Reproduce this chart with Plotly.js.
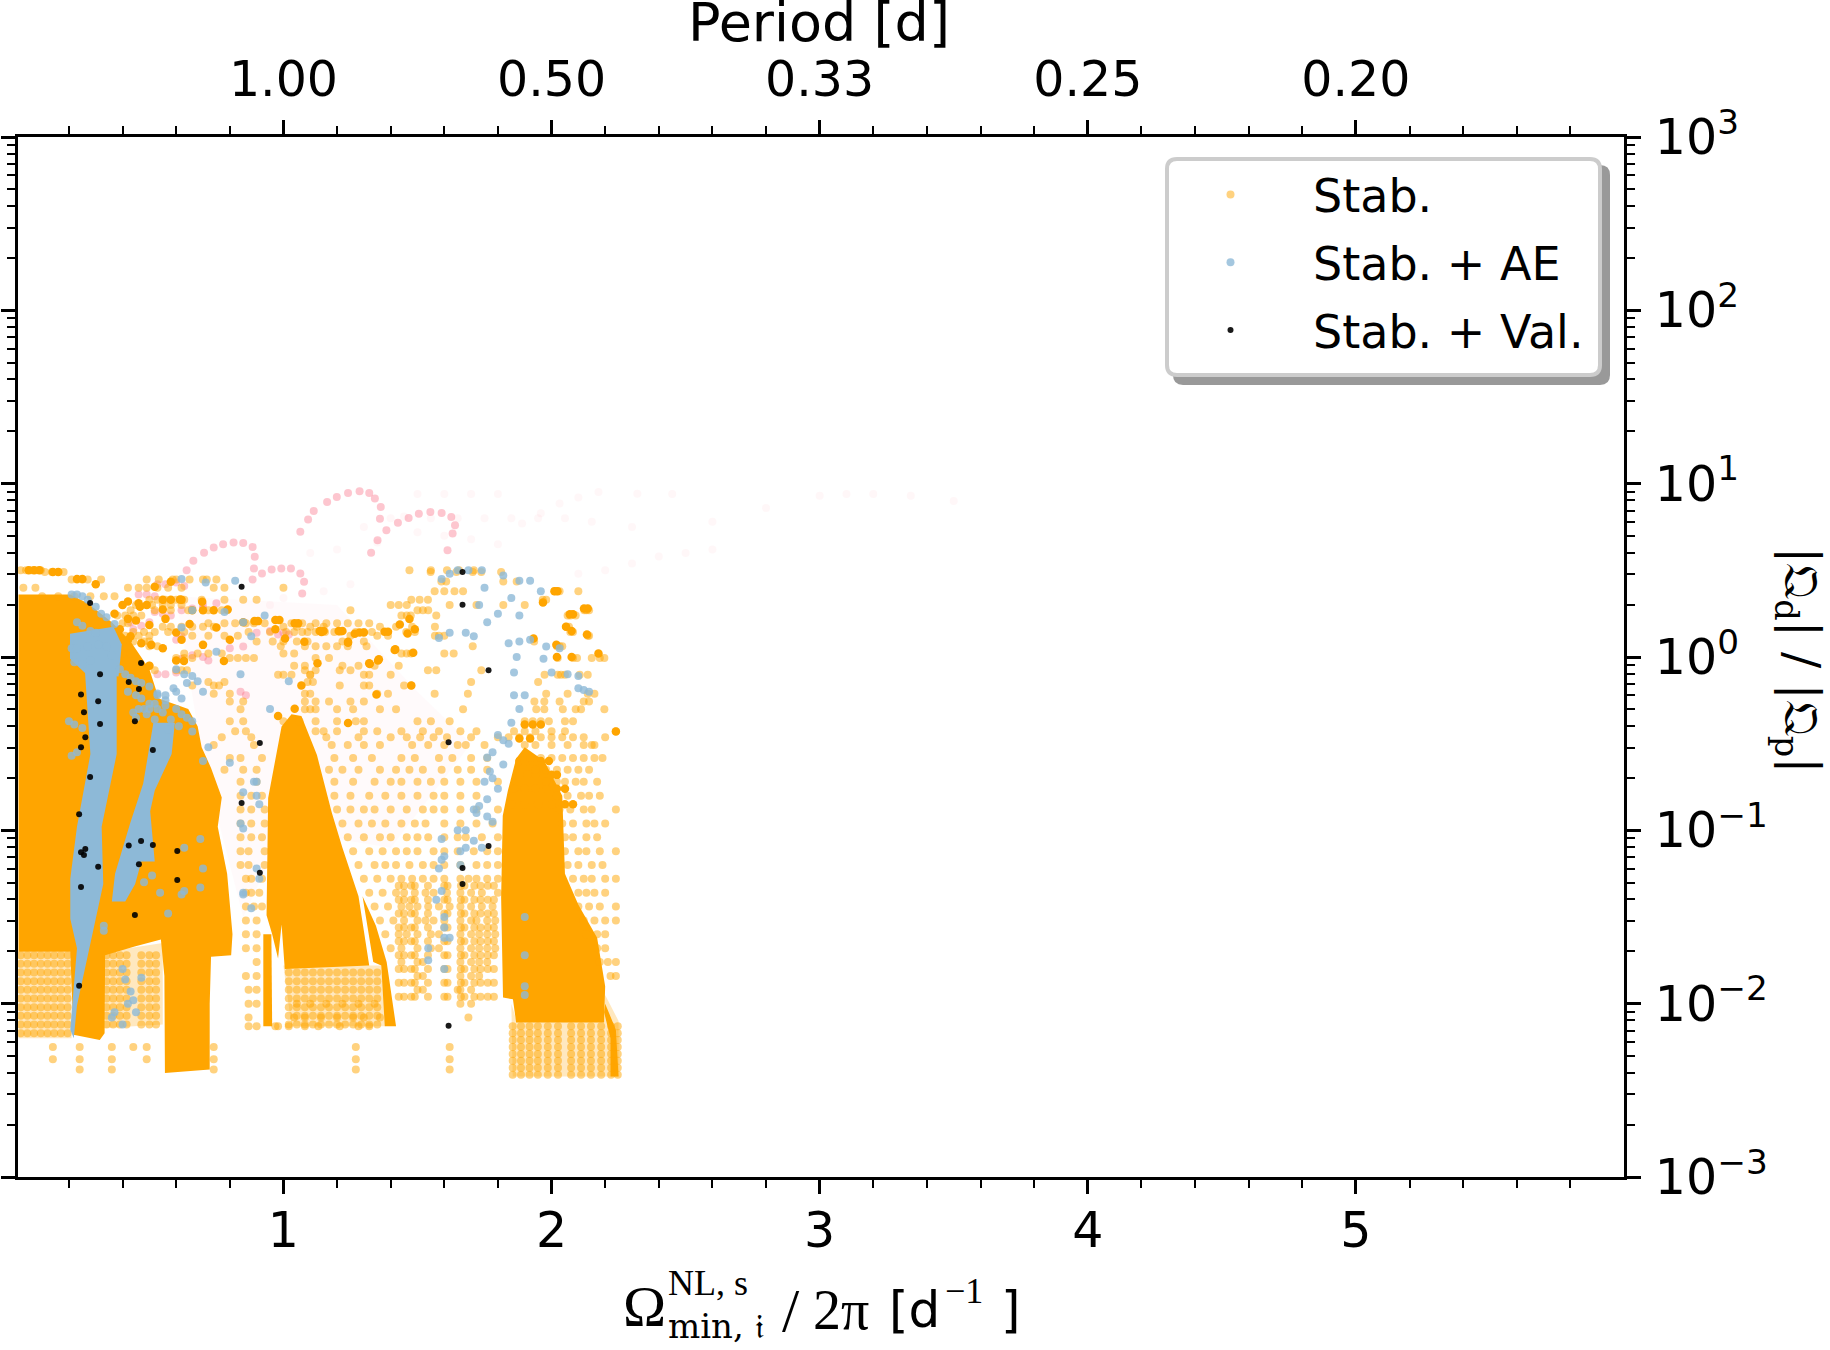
<!DOCTYPE html>
<html>
<head>
<meta charset="utf-8">
<script src="https://cdn.plot.ly/plotly-3.0.1.min.js"></script>
<style>html,body{margin:0;padding:0;background:#fff}</style>
</head>
<body>
<div id="chart" style="width:1830px;height:1350px"></div>
<script>
// tick labels
const freqTicks = [1, 2, 3, 4, 5];
const periodLabels = ['1.00', '0.50', '0.33', '0.25', '0.20'];
const decadeExp = [-3, -2, -1, 0, 1, 2, 3];
const decadeLabels = ['10<sup>\u22123</sup>', '10<sup>\u22122</sup>', '10<sup>\u22121</sup>', '10<sup>0</sup>', '10<sup>1</sup>', '10<sup>2</sup>', '10<sup>3</sup>'];
const freqMinor = [0.2, 0.4, 0.6, 0.8, 1.2, 1.4, 1.6, 1.8, 2.2, 2.4, 2.6, 2.8, 3.2, 3.4, 3.6, 3.8, 4.2, 4.4, 4.6, 4.8, 5.2, 5.4, 5.6, 5.8];

// all values below: x = frequency, y = log10 of the ratio

// Stab. + Val.
const valX = [.844, .279, .469, .316, .423, .461, .245, .309, .256, .446, .316, .261, .912, .245, .513, .279, .844, .238, .423, .469, .513, .261, .245, .256, .604, .461, .309, .912, .604, .245, .446, .238, 1.668, 1.668, 1.765, 1.616, 1.765, 1.668, 1.668, 1.616];
const valLog = [.405, .311, -.035, -.099, -.144, -.185, -.216, -.255, -.319, -.37, -.387, -.463, -.496, -.521, -.537, -.693, -.842, -.907, -1.088, -1.062, -1.084, -1.107, -1.126, -1.142, -1.119, -1.195, -1.21, -1.245, -1.286, -1.327, -1.488, -1.897, .49, .302, -.076, -.492, -1.091, -1.218, -1.309, -2.128];

// dense parts of Stab., as outlines [x, log10]
const stabBlock = [[.012, .36], [.205, .36], [.27, .31], [.36, .2], [.43, .09], [.5, -.07], [.535, -.24], [.645, -.3], [.68, -.4], [.695, -.52], [.73, -.64], [.77, -.81], [.755, -.98], [.79, -1.25], [.81, -1.6], [.805, -1.72], [.73, -1.73], [.725, -2.0], [.725, -2.38], [.558, -2.4], [.556, -1.84], [.543, -1.63], [.445, -1.67], [.335, -1.72], [.333, -2.17], [.315, -2.21], [.217, -2.18], [.205, -1.7], [.012, -1.7]];
const stabBlockFoot = [[.012, -1.7], [.21, -1.7], [.21, -2.2], [.012, -2.2]];
const stabMidFoot = [[.335, -1.7], [.55, -1.65], [.55, -2.12], [.335, -2.14]];
const stabPeakOne = [[.937, -1.49], [.943, -.813], [.993, -.401], [1.03, -.33], [1.067, -.34], [1.125, -.566], [1.18, -.895], [1.22, -1.1], [1.28, -1.38], [1.32, -1.78], [1.005, -1.8], [.993, -1.543], [.98, -1.739], [.958, -1.6]];
const stabPeakStrandB = [[1.295, -1.38], [1.345, -1.55], [1.385, -1.76], [1.42, -2.13], [1.378, -2.13], [1.365, -1.78], [1.335, -1.76]];
const stabPeakStrip = [[.925, -1.6], [.955, -1.6], [.958, -2.13], [.925, -2.13]];
const stabPeakFoot = [[1.0, -1.78], [1.37, -1.78], [1.38, -2.13], [1.03, -2.13]];
const stabPeakTwo = [[1.868, -.586], [1.9, -.52], [1.973, -.6], [2.04, -.8], [2.05, -1.25], [2.1, -1.43], [2.17, -1.62], [2.2, -1.9], [2.196, -2.109], [1.868, -2.109], [1.856, -1.975], [1.819, -1.965], [1.812, -1.389], [1.818, -.916], [1.837, -.772]];
const stabPeakTwoFoot = [[1.855, -2.42], [2.25, -2.42], [2.25, -2.1], [2.2, -1.95], [2.196, -2.1], [1.87, -2.1], [1.85, -2.0]];
const stabPeakTwoEdge = [[2.2, -2.0], [2.24, -2.15], [2.25, -2.42], [2.22, -2.42], [2.22, -2.2], [2.196, -2.05]];

// dense parts of Stab. + AE
const aeStrandTop = [[.204, .134], [.366, .175], [.397, .072], [.385, -.113], [.26, -.093], [.204, -.01]];
const aeStrandOne = [[.26, -.09], [.378, -.09], [.378, -.56], [.322, -.98], [.328, -1.31], [.285, -1.62], [.23, -2.01], [.218, -2.2], [.205, -2.15], [.23, -1.68], [.205, -1.51], [.205, -1.28], [.23, -.98], [.28, -.56]];
const aeStrandTwo = [[.515, -.38], [.595, -.38], [.583, -.56], [.52, -.77], [.503, -.89], [.52, -1.18], [.47, -1.18], [.447, -1.31], [.41, -1.41], [.36, -1.41], [.372, -1.25], [.428, -.96], [.477, -.73]];

// streaks of Stab. that are saturated, many dots on one spot
const streakX = [.52, .58, .614, .697, .792, .55, .465, .5, .6, .507, .42, .892, .905, .97, .985, 1.042, 1.055, 1.135, 1.15, 1.206, 1.22, 1.284, 1.3, 1.377, 1.39, 1.463, 1.49, 1.434, 1.47, 1.078, 1.006, 1.241, 1.417, 1.484, 1.356, 1.32, 1.127, .778, .629, 2.011, 2.022, 1.968, 2.121, 2.135, 2.068, 2.08, 2.054, 2.075, 2.132, 1.933, 2.018, 2.175, 2.02, 2.075, 1.266, 1.142, 1.241, 1.353, 1.322, 1.415, 1.477, 1.347, .98, 1.067, 1.042, 1.241, .05, .07, .09, .14, .16, .23, .25, .55, .58, .62, .66, .7, .74, 1.9, 1.93, 1.96, 1.88, 1.92, 2.24, .3, .42, .46, .49, .37, .42, .45, .39, .43, .47, .55, .6, .5, .4, .56, .65, .75, .85, .97, .62, .7, .8, 1.88, 1.9, 1.93, 1.96, 1.99, 1.88, 1.91, 1.94, 1.97, 2.0, 2.02, 1.86, 1.9, 1.94, 1.98, 2.02, 2.05, 1.85, 1.9, 1.95, 2.0, 2.05, 2.08];
const streakLog = [.405, .434, .332, .319, .274, .274, .29, .184, .142, .07, .098, .207, .207, .213, .213, .194, .194, .15, .15, .15, .15, .142, .142, .146, .146, .136, .16, .188, .219, .088, .107, .088, .044, .025, -.013, -.036, -.036, -.023, -.023, .38, .38, .315, .28, .28, .246, .246, .175, .15, .13, .107, .07, .02, 0, 0, .134, .144, .082, -.02, -.041, .041, -.165, -.216, -.34, -.165, -.298, -.381, .5, .5, .5, .49, .49, .45, .45, .33, .33, .33, .27, .27, .27, -.39, -.39, -.39, -.47, -.47, -.43, .42, .32, .31, .3, .25, .22, .21, .16, .12, .08, .05, -.02, -.05, .3, .22, .19, .17, .2, .16, .1, .07, .1, -.6, -.6, -.6, -.6, -.6, -.68, -.68, -.68, -.68, -.68, -.68, -.76, -.76, -.76, -.76, -.76, -.76, -.85, -.85, -.85, -.85, -.85, -.85];

// scattered Stab. dots, row by row: [log10, [x...]]
const stabRows = [
  [.50, [.02, .04, .06, .08, .095, 1.47, 1.55, 1.61, 1.655, 1.71]],
  [.49, [.11, .136, .16, .18, 1.549, 1.645, 1.706, 1.738, 1.812]],
  [.447, [.21, .23, .25, .27, .32, .6, .65, .7, .49, .535, .587, .714, .75]],
  [.436, [1.589, 1.607, 1.82, 1.87]],
  [.40, [.03, .075, .42, .46, .49, .53, .57, .62, .74, .78, 1.0]],
  [.38, [1.564, 1.6, 1.638, 1.67, 2.011, 2.02, 2.03, 2.1]],
  [.35, [.1, .16, .22, .28, .33, .37]],
  [.33, [.5, .53, .56, .6, .63, .695, .78, .85, .9, 1.477, 1.508, 1.539, 1.967, 1.98]],
  [.30, [.4, .45, .49, .51, .55, .58, .62, 1.4, 1.43, 1.46, 1.62, 1.72, 1.82, 1.9]],
  [.27, [.645, .72, .77, .79, .43, .52, .58, 1.5, 1.52, 1.54, 2.122, 2.13, 2.14, 1.25]],
  [.24, [.38, .41, .44, .47, 2.06, 2.07, 2.09, 1.44, 1.46, 1.475, 1.57]],
  [.195, [.4, .42, .72, .78, .82, .86, .89, .93, 1.03, 1.07, 1.12, 1.16, 1.2, 1.24, 1.28, 1.32]],
  [.175, [.55, .58, .62, .66, .7, .74, 1.0, 1.05, 1.1, 1.15, 1.36, 1.42, 1.48, 1.565, 2.055, 2.065]],
  [.144, [.36, .38, .44, .48, .52, .57, .63, .87, .95, 1.01, 1.04, 1.07, 1.09, 1.12, 1.155, 1.19, 1.21, 1.27, 1.3, 1.33, 1.458, 1.49, 2.07, 2.08]],
  [.123, [.41, .46, .5, .66, .72, .78, .83, 1.565, 1.58, 1.6, 2.135, 2.14, 1.25, 1.35, 1.39]],
  [.09, [.36, .4, .44, .48, .5, .9, .96, 1.0, 1.05, 1.09, 1.935, 1.22, 1.3]],
  [.062, [.5, .53, 1.08, 1.12, 1.16, 1.2, 1.24, 1.31, 1.706, 2.02, 2.03, 2.04, .99]],
  [.02, [.4, .43, .63, .68, .72, .77, 1.0, 1.04, 1.44, 1.46, 1.476, 1.6, 1.635]],
  [-.006, [.6, .63, .66, .8, .83, .86, .89, 1.12, 1.17, 2.023, 2.08, 2.095, 2.15, 2.18, 2.197]],
  [-.05, [.4, .44, .5, 1.04, 1.08, 1.22, 1.28, 1.34, 1.43]],
  [-.076, [.52, .6, .62, .64, 1.08, 1.12, 1.21, 1.25, 1.539, 1.57, 1.738]],
  [-.103, [.98, 1.0, 1.03, 1.1, 1.1, 1.3, 1.32, 1.4, 1.974, 2.023, 2.035, 2.05, 2.105, 2.135]],
  [-.144, [.72, .78, 1.09, 1.11, 1.7, 1.95]],
  [-.165, [.74, .66, .76, 1.21, 1.3, 1.32, 1.45, 1.476]],
  [-.212, [.74, .8, 1.08, 1.1, 1.35, 1.39, 1.564, 1.688, 1.98, 2.06, 2.135, 2.16]],
  [-.257, [.8, .85, 1.12, 1.08, 1.17, 1.25, 1.3, 1.936, 1.973, 2.03, 2.12, 2.14]],
  [-.302, [.84, 1.08, 1.1, 1.12, 1.2, 1.26, 1.36, 1.42, 1.67, 1.943, 1.973, 2.042, 2.09, 2.11, 2.197]],
  [-.37, [.8, .85, 1.0, 1.06, 1.12, 1.2, 1.27, 1.3, 1.5, 1.55, 1.62, 1.9, 1.93, 1.96, 1.99, 2.05, 2.08]],
  [-.428, [.82, .86, 1.12, 1.15, 1.2, 1.3, 1.35, 1.44, 1.52, 1.58, 1.66, 1.72, 1.86, 1.9, 1.94, 2.0, 2.05, 2.24]],
  [-.463, [.77, .88, 1.16, 1.28, 1.4, 1.46, 1.51, 1.56, 1.61, 1.7, 1.8, 1.84, 1.88, 1.92, 1.96, 2.0, 2.04, 2.08, 2.12, 2.2]],
  [-.508, [.74, .89, 1.18, 1.24, 1.3, 1.36, 1.48, 1.54, 1.6, 1.65, 1.68, 1.75, 1.9, 1.94, 2.0, 2.06, 2.12, 2.15, 2.16]],
  [-.582, [.8, .84, .92, 1.19, 1.26, 1.33, 1.44, 1.49, 1.58, 1.63, 1.7, 1.76, 1.92, 1.96, 2.0, 2.04, 2.08, 2.12, 2.16, 2.19]],
  [-.65, [.78, .85, .9, 1.17, 1.22, 1.28, 1.36, 1.42, 1.47, 1.52, 1.59, 1.65, 1.7, 1.76, 1.94, 1.98, 2.02, 2.06, 2.1, 2.14]],
  [-.72, [.84, .9, 1.19, 1.26, 1.34, 1.4, 1.44, 1.5, 1.55, 1.6, 1.66, 1.72, 1.8, 1.98, 2.02, 2.05, 2.09, 2.12, 2.17]],
  [-.8, [.84, .88, .92, 1.19, 1.25, 1.32, 1.38, 1.44, 1.5, 1.56, 1.6, 1.66, 1.72, 2.02, 2.06, 2.11, 2.14, 2.18]],
  [-.88, [.84, .88, .93, 1.2, 1.25, 1.3, 1.34, 1.4, 1.46, 1.52, 1.56, 1.6, 1.66, 1.72, 1.8, 2.03, 2.07, 2.12, 2.15, 2.24]],
  [-.96, [.84, .88, .93, 1.22, 1.28, 1.33, 1.38, 1.44, 1.49, 1.53, 1.6, 1.66, 1.72, 1.78, 2.04, 2.08, 2.13, 2.16, 2.2]],
  [-1.04, [.84, .88, .92, 1.24, 1.3, 1.36, 1.4, 1.46, 1.5, 1.54, 1.6, 1.65, 1.68, 1.74, 1.8, 2.05, 2.08, 2.13, 2.17]],
  [-1.12, [.84, .87, .93, 1.26, 1.32, 1.37, 1.42, 1.46, 1.5, 1.56, 1.6, 1.65, 1.71, 1.76, 1.8, 2.05, 2.1, 2.13, 2.18, 2.24]],
  [-1.2, [.84, .87, .93, 1.28, 1.34, 1.38, 1.42, 1.47, 1.52, 1.56, 1.6, 1.66, 1.72, 1.76, 1.8, 2.06, 2.1, 2.15, 2.19]],
  [-1.28, [.86, .88, .92, 1.3, 1.35, 1.4, 1.44, 1.48, 1.52, 1.56, 1.6, 1.66, 1.69, 1.72, 1.76, 1.8, 2.08, 2.12, 2.15, 2.2, 2.24]],
  [-1.36, [.86, .88, .91, 1.32, 1.37, 1.42, 1.45, 1.49, 1.53, 1.56, 1.61, 1.66, 1.7, 1.74, 1.8, 2.1, 2.13, 2.16, 2.2]],
  [-1.44, [.86, .89, .92, 1.34, 1.39, 1.44, 1.47, 1.5, 1.54, 1.58, 1.62, 1.66, 1.7, 1.74, 1.78, 2.1, 2.14, 2.18, 2.24]],
  [-1.52, [.86, .9, 1.36, 1.41, 1.45, 1.5, 1.53, 1.56, 1.6, 1.66, 1.7, 1.72, 1.76, 1.79, 2.12, 2.16, 2.2, 2.24]],
  [-1.6, [.86, .9, 1.38, 1.43, 1.46, 1.5, 1.55, 1.58, 1.66, 1.7, 1.73, 1.76, 1.79, 2.13, 2.17, 2.2]],
  [-1.68, [.86, .9, 1.4, 1.44, 1.5, 1.55, 1.58, 1.66, 1.7, 1.73, 1.76, 1.79, 2.17, 2.2]],
  [-1.76, [.9, 1.44, 1.5, 1.52, 1.66, 1.7, 1.73, 1.76, 2.18, 2.21, 2.24]],
  [-1.84, [.86, .9, 1.5, 1.52, 1.66, 1.7, 1.73, 2.22, 2.24]],
  [-1.92, [.87, .9, 1.5, 1.52, 1.66, 1.7, 1.65]],
  [-2.0, [.87, .9, 1.05, 1.1, 1.16, 1.22, 1.28, 1.34, 1.66, 1.7]],
  [-2.08, [.87, 1.04, 1.08, 1.14, 1.2, 1.26, 1.3, 1.36, 1.69]],
  [-2.13, [.87, .9, .98, 1.02, 1.08, 1.13, 1.21, 1.28, 1.32, .97]],
  [-2.25, [.14, .24, .36, .44, .49, .74, 1.27, 1.62]],
  [-2.32, [.14, .24, .36, .49, .74, 1.27, 1.62]],
  [-2.38, [.24, .36, .74, 1.27, 1.62]]
];

// the quantised feet under the dense parts: columns and rows seen there
const footLeftCols = [.02, .045, .07, .095, .12, .145, .17, .195];
const footLeftRows = [-1.72, -1.77, -1.82, -1.87, -1.92, -1.97, -2.02, -2.07, -2.12, -2.17];
const footMidCols = [.34, .365, .39, .415, .47, .5, .525];
const footMidRows = [-1.72, -1.77, -1.82, -1.87, -1.92, -1.97, -2.02, -2.07, -2.12];
const footOneCols = [1.02, 1.05, 1.08, 1.11, 1.14, 1.17, 1.2, 1.23, 1.26, 1.29, 1.32, 1.35];
const footOneRows = [-1.82, -1.87, -1.92, -1.97, -2.02, -2.07, -2.12];
const footTwoCols = [1.855, 1.886, 1.918, 1.949, 1.986, 2.024, 2.073, 2.11, 2.147, 2.185, 2.222, 2.247];
const footTwoRows = [-2.13, -2.17, -2.21, -2.25, -2.29, -2.33, -2.37, -2.41];
const fringeCols = [1.43, 1.45, 1.477, 1.49, 1.539, 1.6, 1.612, 1.662, 1.675, 1.712, 1.735, 1.762, 1.785];
const fringeRows = [-1.32, -1.4, -1.48, -1.56, -1.64, -1.72, -1.8, -1.88, -1.96];

// Stab. + AE dots
const aeX = [.21, .23, .25, .27, .3, .32, .34, .37, .23, .25, .28, .3, .21, .23, .27, .31, .34, .22, .25, .28, .36, .39, .41, .43, .45, .47, .5, .53, .56, .6, .62, .64, .66, .42, .45, .47, .5, .53, .55, .58, .61, .46, .49, .52, .57, .2, .22, .25, .21, .23, .66, .72, .7, .8, .95, .84, .75, .62, .85, .82, .93, .88, .62, .71, .78, .66, .7, 1.02, .85, .89, .9, .9, .84, .85, .91, .85, .9, .91, .85, .88, .4, .41, .43, .47, .44, .37, .36, .4, .33, .33, .69, .63, .7, .63, .69, .62, 1.59, 1.62, 1.65, 1.69, 1.74, 1.82, 1.88, 1.92, 1.96, 1.75, 1.85, 1.73, 1.88, 1.76, 1.8, 1.58, 1.62, 1.68, 1.71, 1.88, 1.92, 1.84, 1.98, 2.03, 1.87, 1.97, 2.0, 1.86, 2.06, 2.1, 2.1, 2.14, 2.12, 1.9, 1.86, 1.88, 1.85, 1.8, 1.84, 1.82, 1.78, 1.76, 1.82, 1.77, 1.78, 1.75, 1.8, 1.76, 1.73, 1.71, 1.72, 1.76, 1.78, 1.68, 1.65, 1.71, 1.74, 1.66, 1.66, 1.68, 1.59, 1.59, 1.6, 1.59, 1.57, 1.58, 1.6, 1.6, 1.62, 1.54, 1.54, 1.6, 1.6, 1.9, 1.9, 1.9, 1.9, .42, .45, .48, .51, .54, .57, .6, .63, .66, .68, .64, .6, .56, .52, .48, .45, .44, .5, .56, .62, .53, .59];
const aeLog = [.36, .36, .35, .33, .29, .25, .23, .19, .2, .18, .15, .14, .05, .05, .06, .07, .06, -.03, -.04, -.02, .01, -.07, -.1, -.12, -.14, -.15, -.17, -.21, -.25, -.3, -.33, -.35, -.37, -.2, -.22, -.24, -.27, -.3, -.32, -.36, -.4, -.3, -.33, -.36, -.42, -.37, -.39, -.41, -.57, -.55, -.43, -.52, -.6, -.61, -.3, -.1, .03, .17, .2, .44, .24, .12, .45, .43, .26, .27, -.2, -.14, -.78, -.72, -.72, -.8, -.96, -.99, -.85, -1.36, -1.22, -1.28, -1.37, -1.45, -1.8, -1.86, -1.93, -1.85, -1.98, -2.05, -2.08, -2.12, -1.55, -1.58, -1.05, -1.1, -1.22, -1.35, -1.33, -1.37, .45, .48, .5, .5, .5, .47, .44, .44, .38, .4, .34, .3, .24, .2, .25, .11, .14, .14, .12, .09, .1, .08, .06, .05, .0, -.01, -.09, -.09, -.1, -.11, -.18, -.2, -.19, -.22, -.22, -.3, -.38, -.45, -.5, -.48, -.55, -.58, -.62, -.66, -.7, -.72, -.76, -.82, -.86, -.88, -.9, -.92, -.95, -1.0, -1.0, -1.06, -1.1, -1.12, -1.2, -1.1, -1.05, -1.17, -1.15, -1.35, -1.4, -1.22, -1.5, -1.56, -1.62, -1.68, -1.75, -1.8, -1.62, -1.72, -1.5, -1.9, -1.95, -2.0, -2.05, -1.3, -1.26, -1.36, -1.48, -.07, -.1, -.11, -.14, -.15, -.2, -.22, -.27, -.3, -.35, -.32, -.3, -.28, -.24, -.22, -.18, -.28, -.33, -.36, -.38, -.4, -.45];

// pink traces behind everything: arcs, then the faint far part
const pinkX = [1.063, 1.092, 1.113, 1.163, 1.199, 1.241, 1.284, 1.32, 1.341, 1.363, 1.36, 1.327, 1.351, 1.384, 1.427, 1.467, 1.505, 1.548, 1.59, 1.626, 1.64, 1.631, 1.612, .639, .664, .704, .74, .775, .814, .85, .885, .893, .89, .885, .92, .956, .992, 1.028, 1.063, 1.077, 1.07, .53, .56, .6, .63, .46, .49, .52, .62, .66, .7, .9, .95, 1.0, .62, .66, .7, .72, .53, .56, .6, .84, .86, .7, .75, .6, .62, .98, 1.02, .52, .55, .58, .8, .85, .43, .44, .47, .5];
const pinkLog = [.722, .793, .843, .894, .923, .946, .956, .946, .914, .866, .798, .601, .674, .731, .774, .802, .827, .837, .831, .808, .76, .712, .616, .501, .555, .601, .632, .651, .66, .658, .635, .578, .511, .447, .482, .505, .511, .511, .482, .434, .367, .42, .42, .43, .41, .36, .36, .35, .27, .28, .28, .14, .15, .14, -.01, .01, .0, -.02, -.1, -.1, -.09, -.2, -.22, .3, .31, .1, .12, .13, .13, .26, .25, .24, .05, .06, .2, .16, .18, .2];
const pinkFarX = [1.5, 1.6, 1.7, 1.8, 1.89, 1.96, 2.03, 2.1, 2.175, 2.32, 2.45, 2.6, 2.8, 3.0, 3.1, 3.2, 3.34, 3.5, 1.45, 1.55, 1.65, 1.75, 1.85, 1.95, 2.05, 2.15, 2.3, 2.5, 2.6, 2.4, 2.3, 2.2, 2.1, 1.3, 1.4, 1.5, 1.6, 1.7, 1.8, 1.1, 1.2, 1.35, .95, 1.0, 1.15, 1.25];
const pinkFarLog = [.94, .94, .94, .94, .77, .83, .885, .92, .952, .942, .94, .78, .86, .93, .94, .94, .93, .9, .81, .8, .8, .8, .8, .8, .8, .78, .75, .6, .62, .58, .54, .5, .48, .75, .8, .72, .7, .68, .65, .6, .62, .66, .3, .34, .38, .42];
const hazeOutline = [[.6, .35], [1.2, .3], [1.5, -.2], [1.7, -.5], [1.4, -1.1], [1.0, -1.0], [.85, -1.5], [.7, -.6]];

// one flat [x, y] list from the rows and the feet above
const stabX = [];
const stabLog = [];
for (const [level, xs] of stabRows) {
  for (const v of xs) {
    stabX.push(v);
    stabLog.push(level);
  }
}
for (const [cols, rows] of [[footLeftCols, footLeftRows], [footMidCols, footMidRows], [footOneCols, footOneRows], [footTwoCols, footTwoRows], [fringeCols, fringeRows]]) {
  for (const c of cols) {
    for (const r of rows) {
      stabX.push(c);
      stabLog.push(r);
    }
  }
}

const tenTo = a => a.map(v => Math.pow(10, v));

function outline(points, color, opacity) {
  return {
    x: points.map(p => p[0]),
    y: tenTo(points.map(p => p[1])),
    mode: 'lines',
    fill: 'toself',
    fillcolor: color,
    line: {width: 0, color: color},
    opacity: opacity,
    showlegend: false,
    hoverinfo: 'skip',
    type: 'scatter'
  };
}

const orange = '#ffa500';
const aeBlue = '#8db9d7';

const traces = [
  outline(hazeOutline, 'rgb(255,205,215)', 0.1),
  {x: pinkFarX, y: tenTo(pinkFarLog), mode: 'markers', marker: {size: 8, color: 'rgb(255,150,165)', opacity: 0.08}, showlegend: false, type: 'scatter'},
  {x: pinkX, y: tenTo(pinkLog), mode: 'markers', marker: {size: 8, color: 'rgb(250,120,140)', opacity: 0.42}, showlegend: false, type: 'scatter'},
  outline(stabBlockFoot, orange, 0.25),
  outline(stabMidFoot, orange, 0.25),
  outline(stabPeakFoot, orange, 0.25),
  outline(stabPeakTwoFoot, orange, 0.25),
  outline(stabBlock, orange, 1),
  outline(stabPeakOne, orange, 1),
  outline(stabPeakStrandB, orange, 1),
  outline(stabPeakStrip, orange, 1),
  outline(stabPeakTwo, orange, 1),
  outline(stabPeakTwoEdge, orange, 1),
  {x: streakX, y: tenTo(streakLog), mode: 'markers', marker: {size: 8.5, color: orange}, showlegend: false, type: 'scatter'},
  {name: 'Stab.', legendgroup: 'a', x: stabX, y: tenTo(stabLog), mode: 'markers', marker: {size: 8, color: orange, opacity: 0.5}, type: 'scatter'},
  outline(aeStrandTop, aeBlue, 1),
  outline(aeStrandOne, aeBlue, 1),
  outline(aeStrandTwo, aeBlue, 1),
  {name: 'Stab. + AE', legendgroup: 'b', x: aeX, y: tenTo(aeLog), mode: 'markers', marker: {size: 8, color: aeBlue, opacity: 0.8}, type: 'scatter'},
  {name: 'Stab. + Val.', legendgroup: 'c', x: valX, y: tenTo(valLog), mode: 'markers', marker: {size: 6, color: '#000', opacity: 0.9}, type: 'scatter'},
  // keep the top and right axes alive
  {x: [null], y: [null], xaxis: 'x2', yaxis: 'y2', showlegend: false, type: 'scatter'}
];

const decades = tenTo(decadeExp);
const logMinor = [];
for (const e of decadeExp.slice(0, 6)) {
  for (const m of [2, 3, 4, 5, 6, 7, 8, 9]) logMinor.push(m * Math.pow(10, e));
}

const axisLine = {showline: true, linecolor: '#000', linewidth: 3, showgrid: false, zeroline: false, ticks: 'outside', ticklen: 14, tickwidth: 2.5, tickcolor: '#000'};
const minorX = {ticks: 'outside', ticklen: 8, tickwidth: 2, tickcolor: '#000', tickmode: 'array', tickvals: freqMinor, showgrid: false};
const minorY = {ticks: 'outside', ticklen: 8, tickwidth: 2, tickcolor: '#000', tickmode: 'array', tickvals: logMinor, showgrid: false};
const tickFont = {family: 'DejaVu Sans', size: 49, color: '#000'};

// legend box with its drop shadow, given in page pixels
const plotL = 18, plotT = 137, plotW = 1606, plotH = 1040;
function roundBox(x0, y0, x1, y1, r) {
  const px = v => ((v - plotL) / plotW).toFixed(5);
  const py = v => (1 - (v - plotT) / plotH).toFixed(5);
  return `M${px(x0 + r)},${py(y0)} L${px(x1 - r)},${py(y0)} Q${px(x1)},${py(y0)} ${px(x1)},${py(y0 + r)} L${px(x1)},${py(y1 - r)} Q${px(x1)},${py(y1)} ${px(x1 - r)},${py(y1)} L${px(x0 + r)},${py(y1)} Q${px(x0)},${py(y1)} ${px(x0)},${py(y1 - r)} L${px(x0)},${py(y0 + r)} Q${px(x0)},${py(y0)} ${px(x0 + r)},${py(y0)} Z`;
}

// the axis titles are pieced together since there is no TeX here
function note(px, py, text, family, size, extra) {
  return Object.assign({
    xref: 'paper', yref: 'paper',
    x: (px - plotL) / plotW, y: 1 - (py - plotT) / plotH,
    text: text, showarrow: false, xanchor: 'left', yanchor: 'middle',
    font: {family: family, size: size, color: '#000'}, borderpad: 0
  }, extra || {});
}
const serif = 'Liberation Serif';
const sans = 'DejaVu Sans';
const titleNotes = [
  note(819, 23, 'Period [d]', sans, 54, {xanchor: 'center'}),
  note(622, 1306, '\u03A9', serif, 58),
  note(667, 1283, 'NL, s', serif, 36),
  note(667, 1326, 'min, \uD835\uDD26', 'DejaVu Serif, ' + serif, 34),
  note(781, 1310, '/', serif, 62),
  note(812, 1310, '2\u03C0', serif, 56),
  note(888, 1310, '[d', sans, 50),
  note(944, 1291, '\u22121', serif, 36),
  note(1000, 1310, ']', sans, 50),
  note(1799, 660, '|\uD835\uDD14<sub>d</sub>| / |\uD835\uDD14<sub>p</sub>|', 'DejaVu Serif, ' + serif, 48, {xanchor: 'center', textangle: 90})
];

const layout = {
  width: 1830,
  height: 1350,
  margin: {l: plotL, r: 1830 - plotL - plotW, t: plotT, b: 1350 - plotT - plotH, pad: 0},
  paper_bgcolor: '#fff',
  plot_bgcolor: '#fff',
  font: {family: 'DejaVu Sans', color: '#000'},
  xaxis: Object.assign({}, axisLine, {range: [0.01, 6], tickmode: 'array', tickvals: freqTicks, ticktext: freqTicks.map(String), tickfont: tickFont, ticklabelstandoff: -6, minor: minorX}),
  xaxis2: Object.assign({}, axisLine, {range: [0.01, 6], overlaying: 'x', side: 'top', tickmode: 'array', tickvals: freqTicks, ticktext: periodLabels, tickfont: tickFont, ticklabelstandoff: 4, minor: minorX}),
  yaxis: Object.assign({}, axisLine, {type: 'log', range: [-3, 3], side: 'left', tickmode: 'array', tickvals: decades, showticklabels: false, minor: minorY}),
  yaxis2: Object.assign({}, axisLine, {type: 'log', range: [-3, 3], overlaying: 'y', side: 'right', tickmode: 'array', tickvals: decades, ticktext: decadeLabels, tickfont: tickFont, ticklabelstandoff: 4, minor: minorY}),
  legend: {
    x: (1148 - plotL) / plotW, y: 1 - (158 - plotT) / plotH, xanchor: 'left', yanchor: 'top',
    bgcolor: 'rgba(0,0,0,0)', borderwidth: 0, traceorder: 'grouped', tracegroupgap: 5,
    itemwidth: 155, font: {family: 'DejaVu Sans', size: 46, color: '#000'}
  },
  shapes: [
    {type: 'path', xref: 'paper', yref: 'paper', path: roundBox(1173, 165, 1610, 385, 10), fillcolor: '#999', line: {width: 0}, layer: 'above'},
    {type: 'path', xref: 'paper', yref: 'paper', path: roundBox(1167, 159, 1600, 375, 10), fillcolor: '#fff', line: {color: '#ccc', width: 4}, layer: 'above'}
  ],
  annotations: titleNotes
};

Plotly.newPlot('chart', traces, layout, {displayModeBar: false});
</script>
</body>
</html>
